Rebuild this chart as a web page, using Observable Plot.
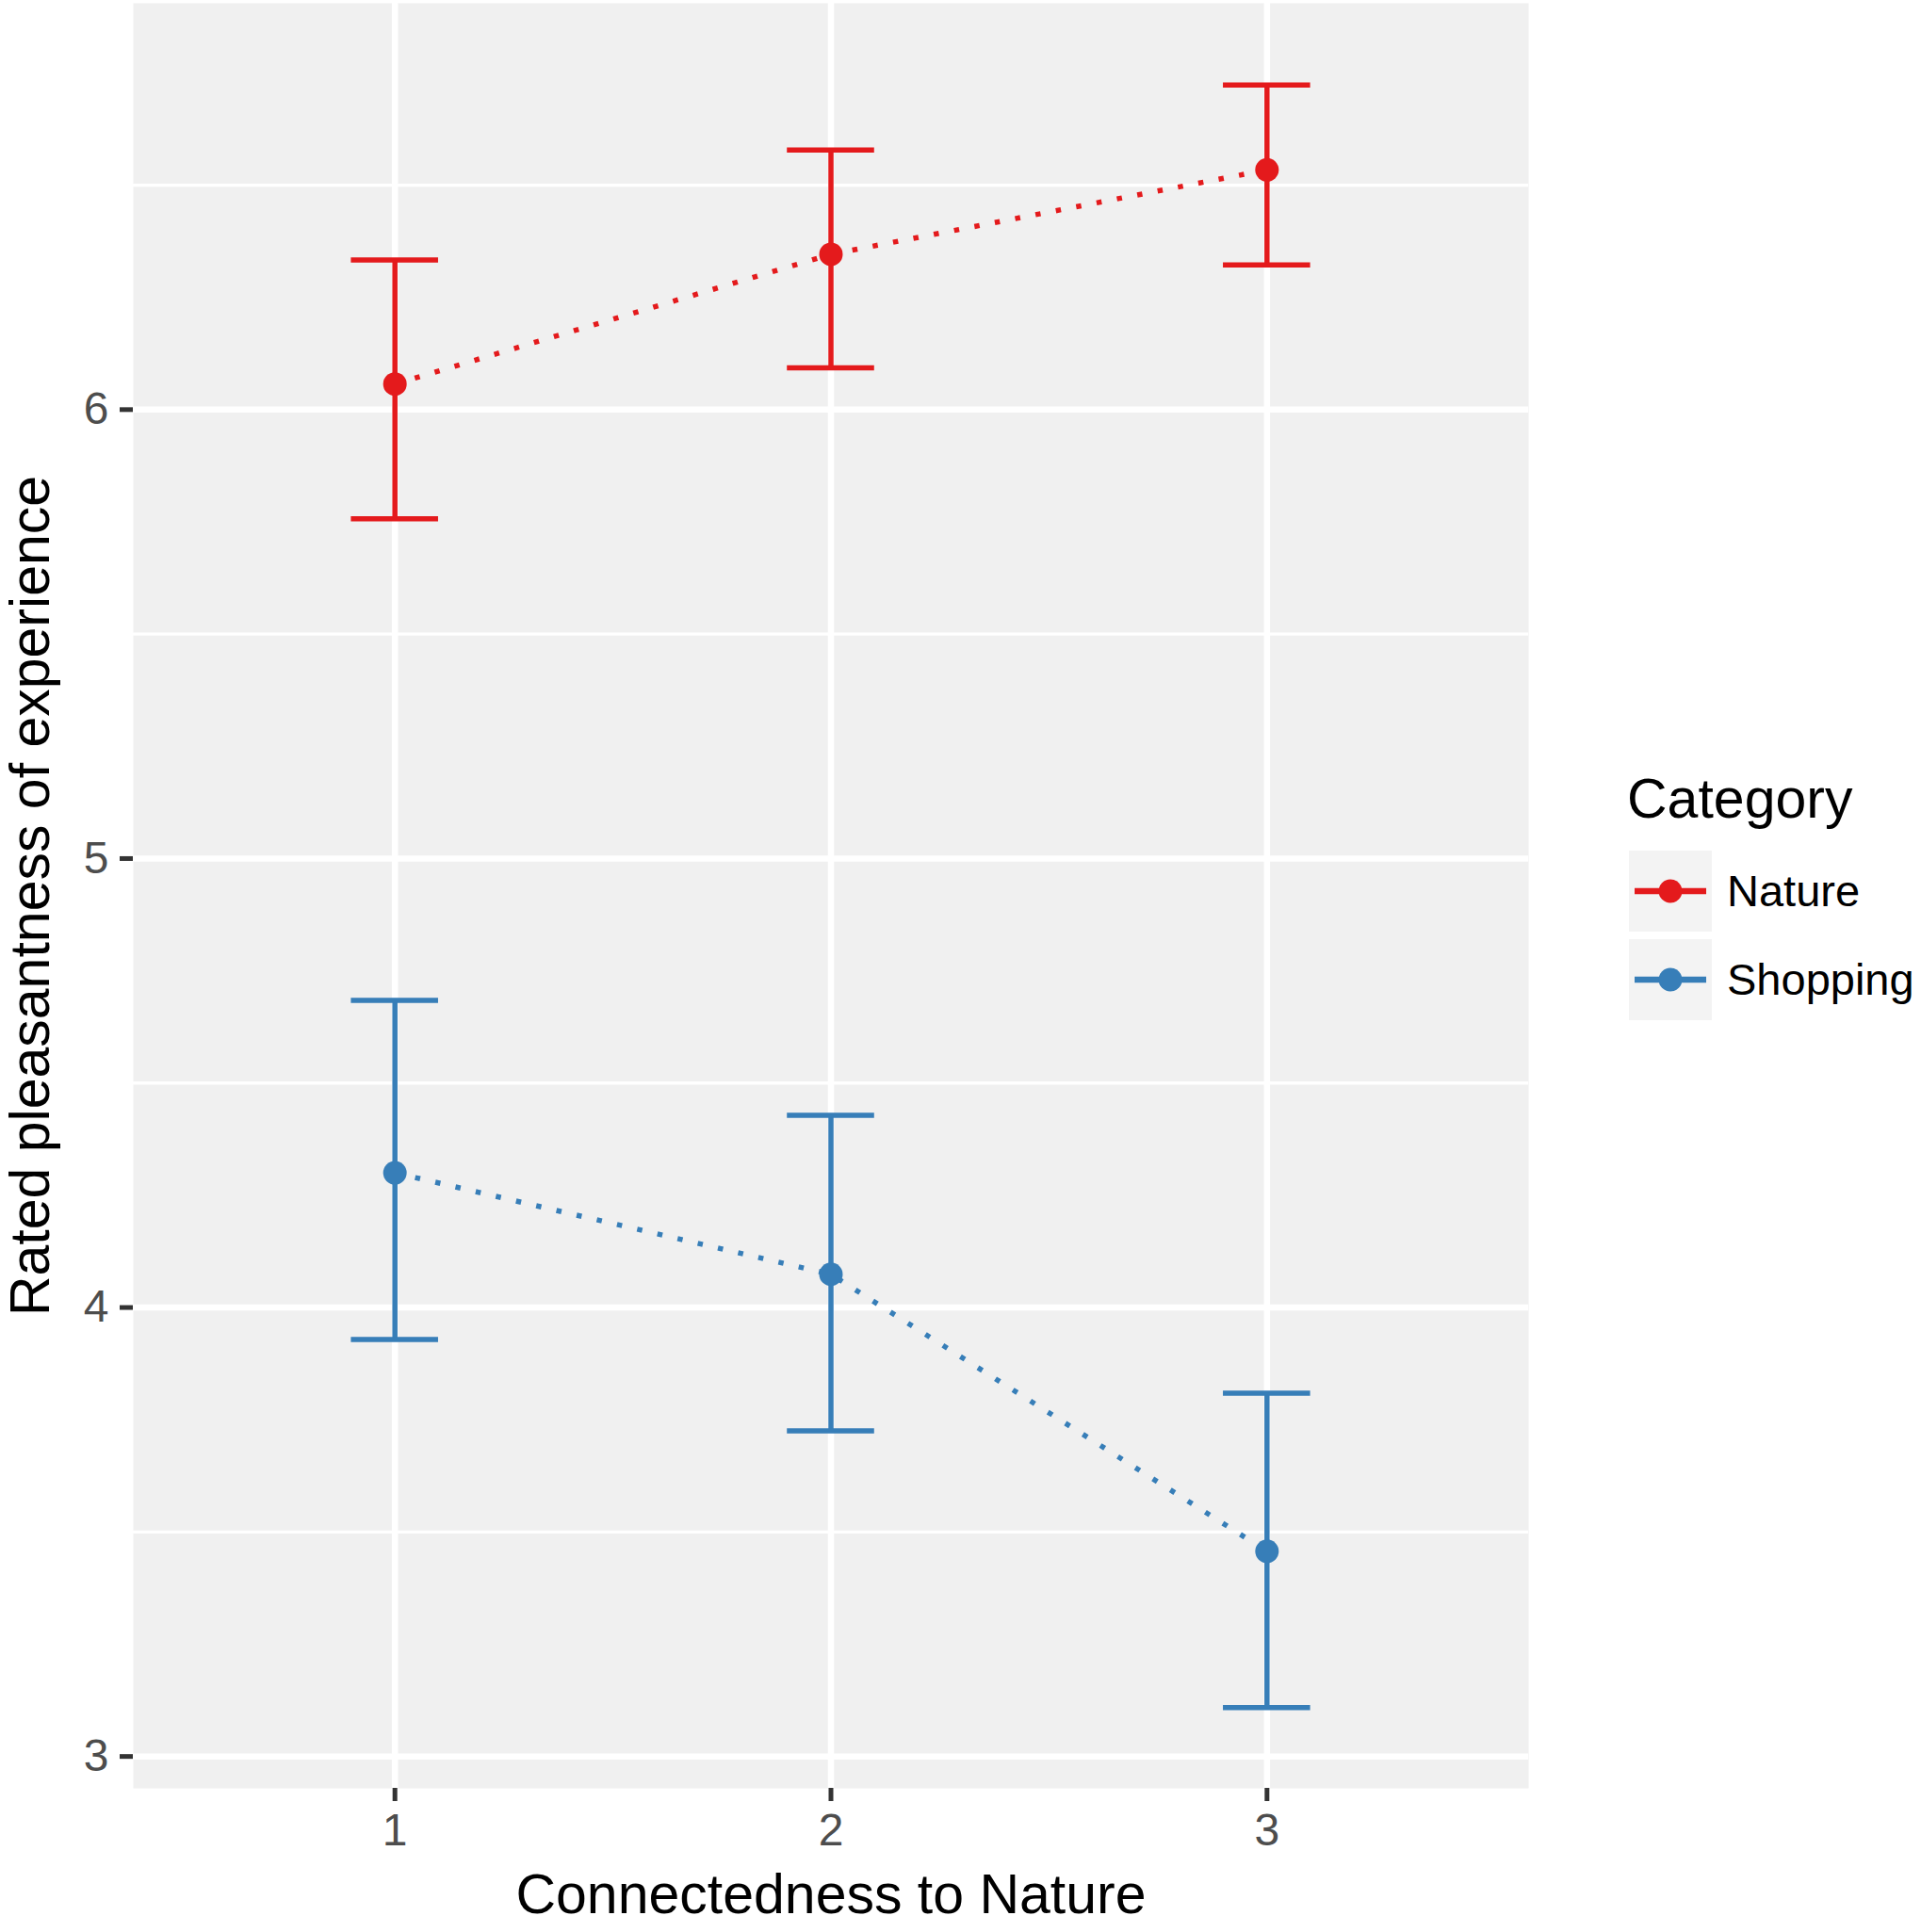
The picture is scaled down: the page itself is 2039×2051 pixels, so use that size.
<!DOCTYPE html>
<html>
<head>
<meta charset="utf-8">
<script src="https://cdn.jsdelivr.net/npm/d3@7"></script>
<script src="https://cdn.jsdelivr.net/npm/@observablehq/plot@0.6"></script>
<style>
  html, body { margin: 0; padding: 0; background: #fff; }
  #wrap { position: relative; width: 2039px; height: 2051px; overflow: hidden; font-family: "Liberation Sans", Arial, Helvetica, sans-serif; }
  #legend { position: absolute; left: 0; top: 0; }
</style>
</head>
<body>
<div id="wrap"></div>
<script>
// ---- data ----
const categories = ["Nature", "Shopping"];
const categoryColors = ["#E41A1C", "#377EB8"];
const connectedness = [1, 2, 3];
const natureMean  = [6.057, 6.346, 6.534];
const natureLower = [5.757, 6.093, 6.322];
const natureUpper = [6.333, 6.578, 6.723];
const shoppingMean  = [4.300, 4.074, 3.457];
const shoppingLower = [3.929, 3.725, 3.109];
const shoppingUpper = [4.684, 4.428, 3.809];
const yTicks = [3, 4, 5, 6];
const yMinorTicks = [3.5, 4.5, 5.5, 6.5];
const xTicks = [1, 2, 3];
const xTitle = "Connectedness to Nature";
const yTitle = "Rated pleasantness of experience";
const legendTitle = "Category";

// ---- table ----
const series = {
  Nature: {mean: natureMean, lower: natureLower, upper: natureUpper},
  Shopping: {mean: shoppingMean, lower: shoppingLower, upper: shoppingUpper}
};
const rows = [];
for (const c of categories) {
  connectedness.forEach((x, i) => {
    rows.push({category: c, x, mean: series[c].mean[i], lower: series[c].lower[i], upper: series[c].upper[i]});
  });
}
const capHalf = 0.1;

const W = 2039, H = 2051;
const fontFamily = '"Liberation Sans", Arial, Helvetica, sans-serif';

const chart = Plot.plot({
  width: W,
  height: H,
  marginLeft: 141,
  marginRight: 417,
  marginTop: 3,
  marginBottom: 153,
  style: {background: "#fff", fontFamily, overflow: "visible"},
  x: {domain: [0.4, 3.6], axis: null},
  y: {domain: [2.929, 6.905], axis: null},
  color: {domain: categories, range: categoryColors},
  marks: [
    Plot.frame({fill: "#F0F0F0", stroke: null}),
    Plot.gridY(yMinorTicks, {stroke: "#fff", strokeOpacity: 1, strokeWidth: 3.3}),
    Plot.gridY(yTicks, {stroke: "#fff", strokeOpacity: 1, strokeWidth: 6.5}),
    Plot.gridX(xTicks, {stroke: "#fff", strokeOpacity: 1, strokeWidth: 6.5}),
    Plot.axisY(yTicks, {tickSize: 14, tickPadding: 12, fontSize: 48, stroke: "#333333", fill: "#4D4D4D", strokeWidth: 5, label: null, tickFormat: d => String(d)}),
    Plot.axisX(xTicks, {tickSize: 14, tickPadding: 12, fontSize: 48, stroke: "#333333", fill: "#4D4D4D", strokeWidth: 5, label: null, tickFormat: d => String(d)}),
    // error bars
    Plot.ruleX(rows, {x: "x", y1: "lower", y2: "upper", stroke: "category", strokeWidth: 5.5}),
    Plot.ruleY(rows, {y: "upper", x1: d => d.x - capHalf, x2: d => d.x + capHalf, stroke: "category", strokeWidth: 5.5}),
    Plot.ruleY(rows, {y: "lower", x1: d => d.x - capHalf, x2: d => d.x + capHalf, stroke: "category", strokeWidth: 5.5}),
    // dotted lines
    Plot.line(rows, {x: "x", y: "mean", z: "category", stroke: "category", strokeWidth: 5.5, strokeDasharray: "5.5,16.5", strokeLinecap: "butt"}),
    // points
    Plot.dot(rows, {x: "x", y: "mean", fill: "category", r: 12.5, stroke: null}),
    // axis titles
    Plot.text([xTitle], {frameAnchor: "bottom", textAnchor: "middle", dy: 132, fontSize: 59, fill: "#000"}),
    Plot.text([yTitle], {frameAnchor: "left", textAnchor: "middle", dx: -108, rotate: -90, fontSize: 59, fill: "#000"})
  ]
});

const wrap = document.getElementById("wrap");
wrap.appendChild(chart);

// ---- legend (overlay) ----
const lg = d3.select(wrap).append("svg")
  .attr("id", "legend")
  .attr("width", W).attr("height", H)
  .style("pointer-events", "none")
  .style("font-family", fontFamily);

lg.append("text").attr("x", 1727).attr("y", 868).attr("font-size", 59).attr("fill", "#000").text(legendTitle);

const keyX = 1729, keyW = 88, keyH = 86, keyY0 = 903, keyStep = 94;
categories.forEach((c, i) => {
  const y = keyY0 + i * keyStep;
  const cy = y + keyH / 2;
  const g = lg.append("g");
  g.append("rect").attr("x", keyX).attr("y", y).attr("width", keyW).attr("height", keyH).attr("fill", "#F3F3F3");
  g.append("line").attr("x1", keyX + 6).attr("x2", keyX + keyW - 6).attr("y1", cy).attr("y2", cy)
    .attr("stroke", categoryColors[i]).attr("stroke-width", 6.5);
  g.append("circle").attr("cx", keyX + keyW / 2).attr("cy", cy).attr("r", 12.5).attr("fill", categoryColors[i]);
  g.append("text").attr("x", 1833).attr("y", cy + 16).attr("font-size", 47).attr("fill", "#000").text(c);
});
</script>
</body>
</html>
